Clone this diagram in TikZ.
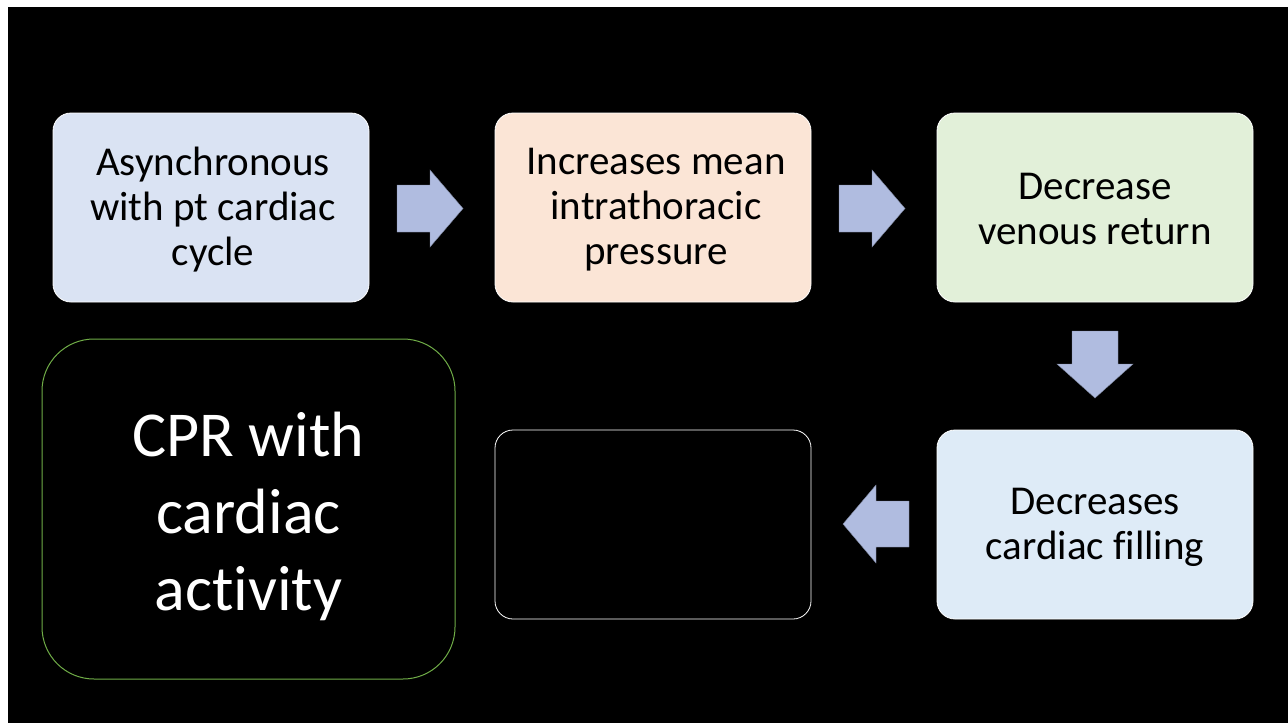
\documentclass[tikz,border=0pt]{standalone}
\usepackage{fontspec}
\setmainfont{Carlito}[Ligatures=NoCommon]
\definecolor{bluefill}{HTML}{DAE3F3}
\definecolor{orangefill}{HTML}{FBE5D6}
\definecolor{greenfill}{HTML}{E2F0D9}
\definecolor{lightblue}{HTML}{DEEBF7}
\definecolor{arrowfill}{HTML}{B0BCE0}
\definecolor{greenline}{HTML}{70AD47}
\tikzset{
  box/.style={rectangle, rounded corners=18pt, minimum width=316pt, minimum height=189pt,
    inner sep=0pt, draw=white, line width=0.8pt},
  boxtext/.style={align=center, text=black, inner sep=0pt, font=\fontsize{41}{45}\selectfont},
  blockarrow/.style={fill=arrowfill, draw=arrowfill!70!black, line width=0.4pt},
}
\begin{document}
\begin{tikzpicture}[x=1pt,y=-1pt]
\useasboundingbox (0,0) rectangle (1288,723);
\fill[white] (0,0) rectangle (1288,723);
\fill[black] (8,7) rectangle (1288,723);
\node[box, fill=bluefill] (b1) at (211,207.5) {};
\node[boxtext] (t1) at (213,210) {Asynchronous\\with pt cardiac\\cycle};
\node[box, fill=orangefill] (b2) at (653,207.5) {};
\node[boxtext] (t2) at (656,210) {Increases mean\\intrathoracic\\pressure};
\node[box, fill=greenfill] (b3) at (1095,207.5) {};
\node[boxtext] (t3) at (1095,208.5) {Decrease\\venous return};
\node[box, fill=lightblue] (b5) at (1095,524.5) {};
\node[boxtext] (t5) at (1095,527) {Decreases\\cardiac filling};
\node[box, fill=black] (b4) at (653,524.5) {};
\node[rectangle, rounded corners=52pt, minimum width=413pt, minimum height=340pt,
  inner sep=0pt, draw=greenline, line width=1pt, fill=black] (cpr) at (248.5,509) {};
\node[align=center, text=white, inner sep=0pt, font=\fontsize{64}{77}\selectfont]
  (cprt) at (248.5,516) {CPR with\\cardiac\\activity};
% block arrows
\draw[blockarrow] (397,185) -- (430,185) -- (430,170) -- (463,208.5) -- (430,247) -- (430,232) -- (397,232) -- cycle;
\draw[blockarrow] (839,185) -- (872,185) -- (872,170) -- (905,208.5) -- (872,247) -- (872,232) -- (839,232) -- cycle;
\draw[blockarrow] (1072,331) -- (1118,331) -- (1118,364) -- (1133,364) -- (1095,398) -- (1057,364) -- (1072,364) -- cycle;
\draw[blockarrow] (909,501) -- (876,501) -- (876,485) -- (843,524) -- (876,563) -- (876,547) -- (909,547) -- cycle;
\end{tikzpicture}
\end{document}
